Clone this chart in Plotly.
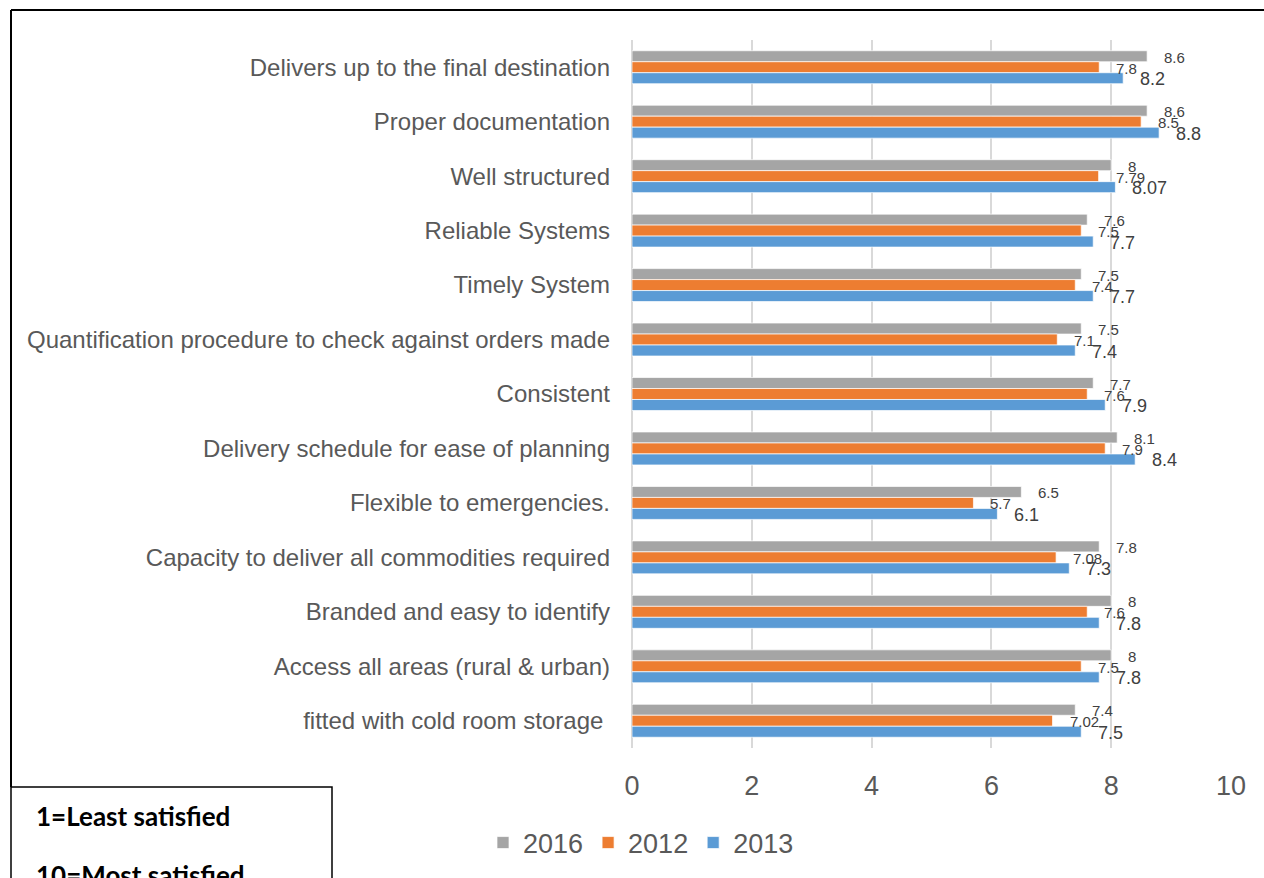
import plotly.graph_objects as go

# Satisfaction attributes, listed top to bottom
categories = [
    "Delivers up to the final destination",
    "Proper documentation",
    "Well structured",
    "Reliable Systems",
    "Timely System",
    "Quantification procedure to check against orders made",
    "Consistent",
    "Delivery schedule for ease of planning",
    "Flexible to emergencies.",
    "Capacity to deliver all commodities required",
    "Branded and easy to identify",
    "Access all areas (rural & urban)",
    "fitted with cold room storage\u00a0",
]

scores_2016 = [8.6, 8.6, 8, 7.6, 7.5, 7.5, 7.7, 8.1, 6.5, 7.8, 8, 8, 7.4]
scores_2012 = [7.8, 8.5, 7.79, 7.5, 7.4, 7.1, 7.6, 7.9, 5.7, 7.08, 7.6, 7.5, 7.02]
scores_2013 = [8.2, 8.8, 8.07, 7.7, 7.7, 7.4, 7.9, 8.4, 6.1, 7.3, 7.8, 7.8, 7.5]

x_ticks = [0, 2, 4, 6, 8, 10]

series = [
    ("2016", scores_2016, "#A5A5A5", 15),
    ("2012", scores_2012, "#ED7D31", 15),
    ("2013", scores_2013, "#5B9BD5", 18),
]

W, H = 1264, 878
L, R, T, B = 632, 1231, 40, 749
BARGAP = 0.395


def px_x(px):
    return (px - L) / (R - L)


def px_y(py):
    return (B - py) / (B - T)


fig = go.Figure()
for name, vals, color, _ in series:
    fig.add_trace(go.Bar(
        name=name, y=categories, x=vals, orientation="h",
        marker=dict(color=color, line=dict(color="rgba(255,255,255,0.7)", width=1)),
        hoverinfo="skip",
    ))

# value labels just past the end of each bar
n = len(series)
bar_w = (1 - BARGAP) / n
annotations = []
for k, (name, vals, color, fsize) in enumerate(series):
    off = -(1 - BARGAP) / 2 + (k + 0.5) * bar_w
    for i, v in enumerate(vals):
        annotations.append(dict(
            x=v, y=i + off, xref="x", yref="y",
            text=f"{v:g}", showarrow=False,
            xanchor="left", yanchor="middle", xshift=15, yshift=-1,
            font=dict(family="Liberation Sans, Arial", size=fsize, color="#404040"),
        ))

# scale note in the lower-left box
for label, py in (("1=Least satisfied", 817), ("10=Most satisfied", 876)):
    annotations.append(dict(
        x=px_x(34), y=px_y(py), xref="paper", yref="paper",
        text=f"<b>{label}</b>", showarrow=False,
        xanchor="left", yanchor="middle",
        font=dict(family="Lato, Carlito, sans-serif", size=26, color="#000000"),
    ))

shapes = [
    # outer frame (top and left edges)
    dict(type="line", xref="paper", yref="paper",
         x0=px_x(11), y0=px_y(10), x1=px_x(1270), y1=px_y(10),
         line=dict(color="#000000", width=2)),
    dict(type="line", xref="paper", yref="paper",
         x0=px_x(11), y0=px_y(10), x1=px_x(11), y1=px_y(788),
         line=dict(color="#000000", width=2)),
    # note box
    dict(type="rect", xref="paper", yref="paper",
         x0=px_x(11), y0=px_y(788), x1=px_x(332), y1=px_y(920),
         line=dict(color="#000000", width=1.5), fillcolor="rgba(0,0,0,0)",
         layer="below"),
]

fig.update_layout(
    width=W, height=H,
    margin=dict(l=L, r=W - R, t=T, b=H - B, pad=0),
    paper_bgcolor="white", plot_bgcolor="white",
    barmode="group", bargap=BARGAP, bargroupgap=0,
    font=dict(family="Liberation Sans, Arial", color="#595959"),
    showlegend=True,
    legend=dict(
        orientation="h", x=px_x(641), xanchor="center",
        y=px_y(843), yanchor="middle",
        font=dict(size=27, color="#595959"),
        traceorder="normal", bgcolor="rgba(0,0,0,0)",
        itemwidth=30,
    ),
    annotations=annotations,
    shapes=shapes,
)

fig.update_xaxes(
    range=[0, 10], tickvals=x_ticks, ticktext=[str(t) for t in x_ticks],
    showgrid=True, gridcolor="#D9D9D9", gridwidth=1.5,
    zeroline=True, zerolinecolor="#D9D9D9", zerolinewidth=1.5,
    showline=False, ticks="",
    tickfont=dict(size=27, color="#595959"),
    ticklabelstandoff=19,
)
fig.update_yaxes(
    type="category", autorange="reversed",
    showgrid=False, zeroline=False, showline=False, ticks="",
    tickfont=dict(size=24, color="#595959"),
    ticklabelstandoff=21,
)

fig.write_html("out.html")
